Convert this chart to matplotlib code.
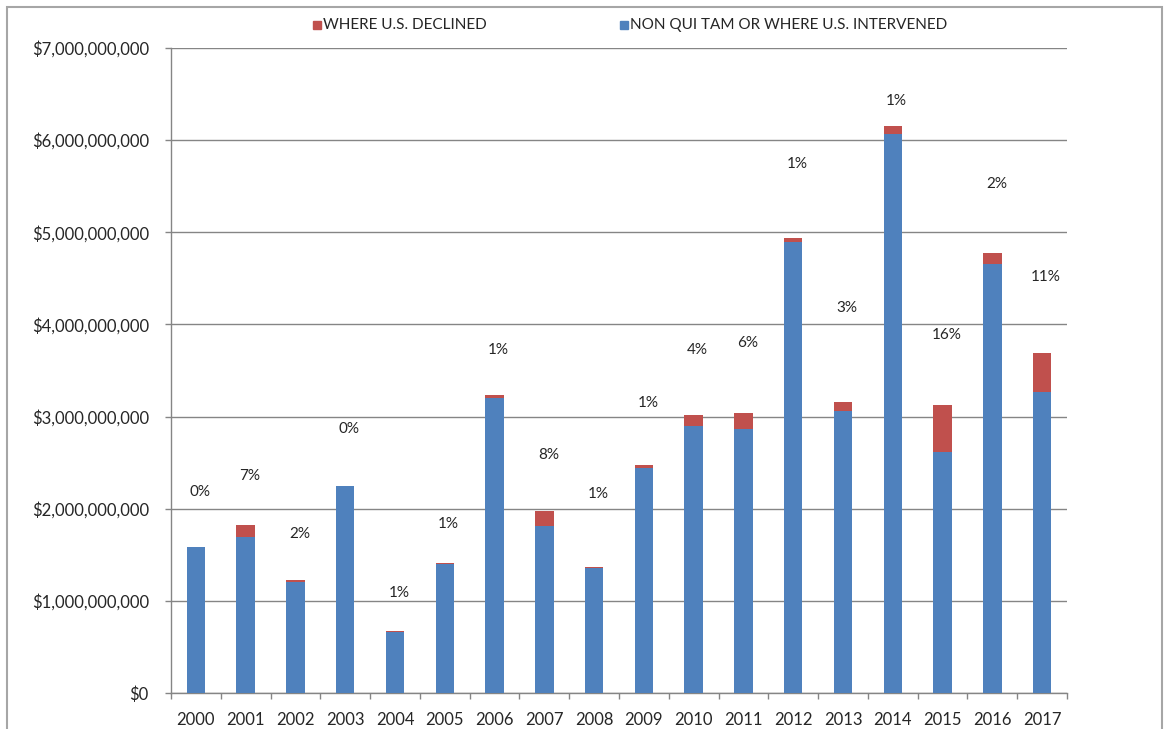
import numpy as np
import matplotlib
matplotlib.use('Agg')
import matplotlib.pyplot as plt
from matplotlib.ticker import FuncFormatter, FixedLocator
from matplotlib.patches import Rectangle

plt.rcParams['font.family'] = ['Lato', 'DejaVu Sans']

# Data (billions of dollars)
years = ['2000', '2001', '2002', '2003', '2004', '2005', '2006', '2007', '2008',
         '2009', '2010', '2011', '2012', '2013', '2014', '2015', '2016', '2017']
intervened = [1.58, 1.69, 1.20, 2.245, 0.663, 1.40, 3.20, 1.81, 1.355,
              2.44, 2.90, 2.86, 4.89, 3.065, 6.07, 2.62, 4.66, 3.27]
declined = [0.006, 0.13, 0.027, 0.006, 0.008, 0.014, 0.032, 0.16, 0.014,
            0.03, 0.12, 0.18, 0.05, 0.095, 0.08, 0.51, 0.12, 0.42]
pct_labels = ['0%', '7%', '2%', '0%', '1%', '1%', '1%', '8%', '1%',
              '1%', '4%', '6%', '1%', '3%', '1%', '16%', '2%', '11%']
label_y = [2.18, 2.36, 1.73, 2.87, 1.09, 1.83, 3.72, 2.58, 2.16,
           3.15, 3.72, 3.80, 5.74, 4.18, 6.42, 3.88, 5.52, 4.51]

blue = '#4F81BD'
red = '#C0504D'
grey = '#858585'
txt = '#262626'

fig = plt.figure(figsize=(11.65, 7.29), dpi=100)
ax = fig.add_axes([171 / 1165, 1 - 693 / 729, (1067 - 171) / 1165, (693 - 48) / 729])

x = np.arange(len(years))
intervened = np.array(intervened) * 1e9
declined = np.array(declined) * 1e9
ax.bar(x, intervened, width=0.37, color=blue, zorder=3)
ax.bar(x, declined, width=0.37, bottom=intervened, color=red, zorder=3)

for xi, lab, ly in zip(x, pct_labels, label_y):
    ax.text(xi + 0.08, ly * 1e9, lab, ha='center', va='center', fontsize=11, color=txt)

ax.set_xlim(-0.5, len(years) - 0.5)
ax.set_ylim(0, 7e9)
ax.set_yticks(np.arange(0, 7.01e9, 1e9))
ax.yaxis.set_major_formatter(FuncFormatter(lambda v, p: '${:,.0f}'.format(v)))
ax.yaxis.grid(True, color=grey, linewidth=1.0, zorder=0)

ax.set_xticks(x)
ax.set_xticklabels(years)
ax.xaxis.set_minor_locator(FixedLocator(np.arange(-0.5, len(years), 1.0)))
ax.tick_params(axis='x', which='major', length=0, pad=14, labelsize=12, labelcolor=txt)
ax.tick_params(axis='x', which='minor', length=4, color=grey, width=1.0)
ax.tick_params(axis='y', length=4, color=grey, width=1.0, pad=12, labelsize=12, labelcolor=txt)

for side in ['top', 'right']:
    ax.spines[side].set_visible(False)
for side in ['left', 'bottom']:
    ax.spines[side].set_color(grey)
    ax.spines[side].set_linewidth(1.0)

# legend drawn in figure coords, like the Excel one above the plot
def legend_item(xpix, color, text):
    fig.patches.append(Rectangle((xpix / 1165, 1 - 29 / 729), 8 / 1165, 8 / 729,
                                 transform=fig.transFigure, color=color))
    fig.text((xpix + 10) / 1165, 1 - 25 / 729, text, ha='left', va='center',
             fontsize=11, color=txt)

legend_item(313, red, 'WHERE U.S. DECLINED')
legend_item(620, blue, 'NON QUI TAM OR WHERE U.S. INTERVENED')

# outer chart border
fig.patches.append(Rectangle((7 / 1165, -0.05), 1155 / 1165, 1 - 7 / 729 + 0.05,
                             transform=fig.transFigure, fill=False,
                             edgecolor='#A6A6A6', linewidth=1.5))

fig.savefig('out.png', dpi=100)
